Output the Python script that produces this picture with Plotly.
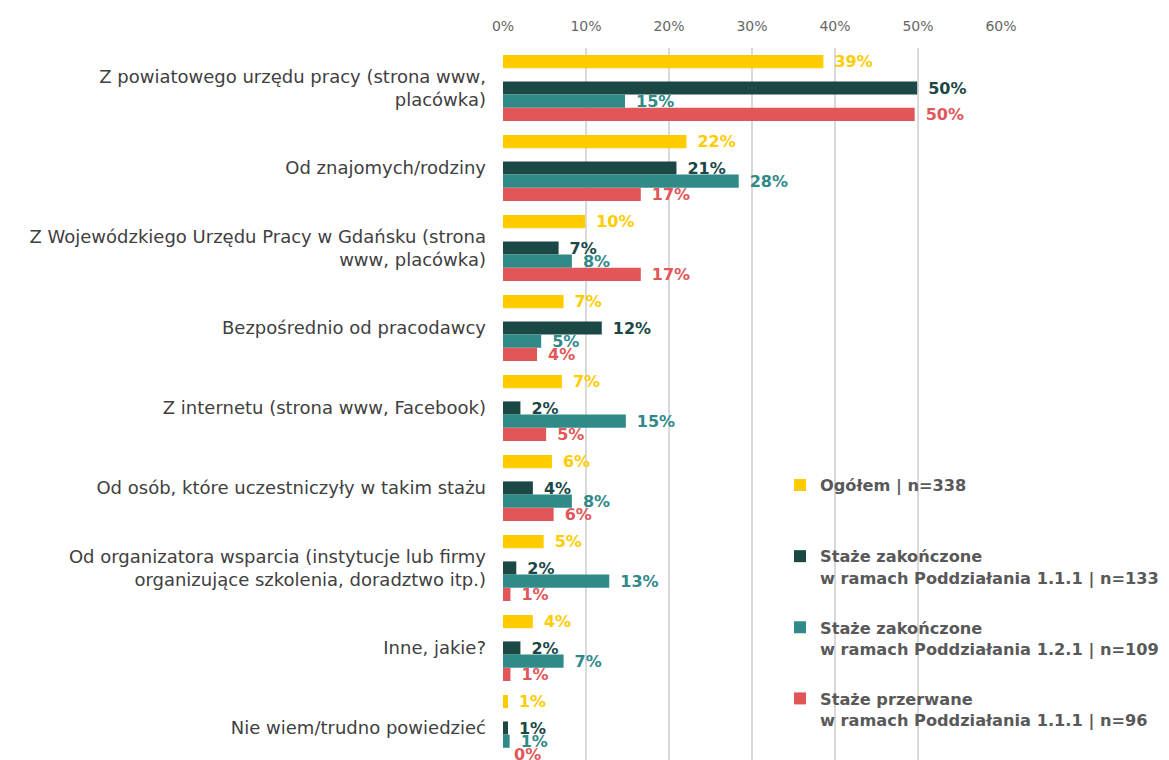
import plotly.graph_objects as go

# --- dane ---
categories = [
    "Z powiatowego urzędu pracy (strona www,<br>placówka)",
    "Od znajomych/rodziny",
    "Z Wojewódzkiego Urzędu Pracy w Gdańsku (strona<br>www, placówka)",
    "Bezpośrednio od pracodawcy",
    "Z internetu (strona www, Facebook)",
    "Od osób, które uczestniczyły w takim stażu",
    "Od organizatora wsparcia (instytucje lub firmy<br>organizujące szkolenia, doradztwo itp.)",
    "Inne, jakie?",
    "Nie wiem/trudno powiedzieć",
]

ogolem = [38.6, 22.1, 9.9, 7.3, 7.1, 5.9, 4.9, 3.6, 0.6]
zakonczone_111 = [49.9, 20.9, 6.7, 11.9, 2.1, 3.6, 1.6, 2.1, 0.6]
zakonczone_121 = [14.7, 28.4, 8.3, 4.6, 14.8, 8.3, 12.8, 7.3, 0.8]
przerwane_111 = [49.6, 16.6, 16.6, 4.1, 5.2, 6.1, 0.9, 0.9, 0.0]

series = [
    ("Ogółem | n=338<br> ", ogolem, "#FFCC00"),
    (None, None, None),  # pusty odstęp między Ogółem a resztą
    ("Staże zakończone<br>w ramach Poddziałania 1.1.1 | n=133", zakonczone_111, "#1B4745"),
    ("Staże zakończone<br>w ramach Poddziałania 1.2.1 | n=109", zakonczone_121, "#308A88"),
    ("Staże przerwane<br>w ramach Poddziałania 1.1.1 | n=96", przerwane_111, "#E15759"),
]

FONT = "DejaVu Sans"

# strona html ma 8px marginesu body, więc figura jest o tyle mniejsza
W, H = 1161, 752

fig = go.Figure()

for i, (name, vals, color) in enumerate(series):
    if vals is None:
        # niewidoczny slot, żeby zrobić przerwę w grupie
        fig.add_trace(go.Bar(y=categories, x=[0] * len(categories), orientation="h",
                             marker=dict(color="rgba(0,0,0,0)", line=dict(width=0)),
                             showlegend=False, hoverinfo="skip"))
        continue
    fig.add_trace(go.Bar(
        y=categories, x=vals, orientation="h", name=name,
        legendgroup=f"g{i}",
        marker=dict(color=color, line=dict(width=0)),
        text=[f"\u2002{v:.0f}%" for v in vals],
        textposition="outside", constraintext="none", cliponaxis=False,
        textfont=dict(color=color, size=16, family=FONT, weight="bold"),
    ))

fig.update_layout(
    width=W, height=H,
    margin=dict(l=495, r=168, t=40, b=0, autoexpand=False),
    paper_bgcolor="white", plot_bgcolor="white",
    barmode="group", bargap=0.175, bargroupgap=0,
    font=dict(family=FONT, color="#404040"),
    showlegend=True,
    legend=dict(
        xref="container", yref="container",
        x=772 / W, y=1 - 460 / H, xanchor="left", yanchor="top",
        font=dict(size=16.2, color="#595959", weight="bold"),
        valign="top", tracegroupgap=26, itemwidth=30,
        bgcolor="rgba(0,0,0,0)",
    ),
    xaxis=dict(
        side="top", range=[0, 60], dtick=10, ticksuffix="%",
        showgrid=True, gridcolor="#D9D9D9", gridwidth=1.5,
        zeroline=False, showline=False, automargin=False,
        tickfont=dict(size=14, color="#666666"), ticklabelstandoff=13,
    ),
    yaxis=dict(
        range=[8.4, -0.5], showgrid=False, zeroline=False, showline=False,
        automargin=False,
        tickfont=dict(size=18, color="#404040"), ticklabelstandoff=16,
    ),
)

fig.write_html("out.html")
